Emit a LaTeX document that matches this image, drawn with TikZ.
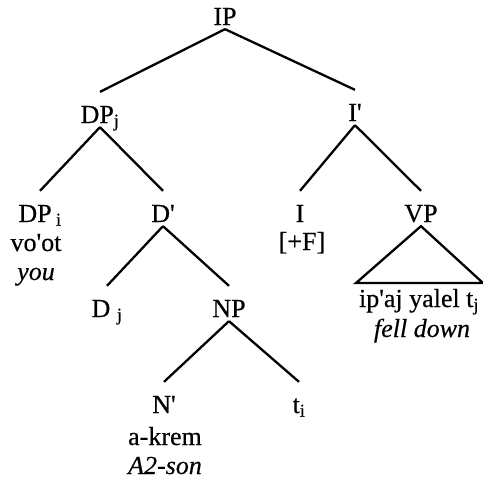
\documentclass[tikz,border=0pt]{standalone}
\usepackage{fontspec}
\setmainfont{Liberation Serif}[UprightFeatures={FakeBold=0.4},ItalicFeatures={FakeBold=0.4}]
\usepackage{tikz}
\tikzset{every path/.style={line width=2.3pt}}
\tikzset{cat/.style={anchor=base,inner sep=0pt,text height=30pt,text depth=3pt},
  word/.style={anchor=base,inner sep=0pt},
  gloss/.style={word,font=\fontsize{26}{30}\selectfont\itshape}}
\newcommand{\tk}{\textquotesingle}

\begin{document}
\begin{tikzpicture}[x=1pt,y=-1pt,font=\fontsize{26}{30}\selectfont]
\useasboundingbox (0,0) rectangle (483,482);
\node[cat] (IP) at (225,25) {IP};
\node[cat] (DPj) at (100,123) {DP\textsubscript{j}};
\node[cat] (Ibar) at (355,121) {I\tk};
\node[cat] (DPi) at (40,222) {DP\,\textsubscript{i}};
\node[word] (voot) at (36,251) {vo\tk ot};
\node[gloss] (you) at (36,280) {you};
\node[cat] (Dbar) at (163,222) {D\tk};
\node[cat] (I) at (300,222) {I};
\node[word] (F) at (302,250) {[+F]};
\node[cat] (VP) at (421,222) {VP};
\node[word] (ipaj) at (419,307) {ip\tk aj yalel t\textsubscript{j}};
\node[gloss] (fell) at (422,337) {fell down};
\node[cat] (Dj) at (107,317) {D \textsubscript{j}};
\node[cat] (NP) at (229,317) {NP};
\node[cat] (Nbar) at (164,413) {N\tk};
\node[word] (akrem) at (165,445) {a-krem};
\node[gloss] (son) at (165,474) {A2-son};
\node[cat] (ti) at (299,413) {t\textsubscript{i}};
\draw (IP.south) -- (DPj.north);
\draw (IP.south) -- (Ibar.north);
\draw (DPj.south) -- (DPi.north);
\draw (DPj.south) -- (Dbar.north);
\draw (Ibar.south) -- (I.north);
\draw (Ibar.south) -- (VP.north);
\draw (Dbar.south) -- (Dj.north);
\draw (Dbar.south) -- (NP.north);
\draw (NP.south) -- (Nbar.north);
\draw (NP.south) -- (ti.north);
\draw (VP.south) -- (356,283) -- (483,283) -- cycle;
\end{tikzpicture}
\end{document}
